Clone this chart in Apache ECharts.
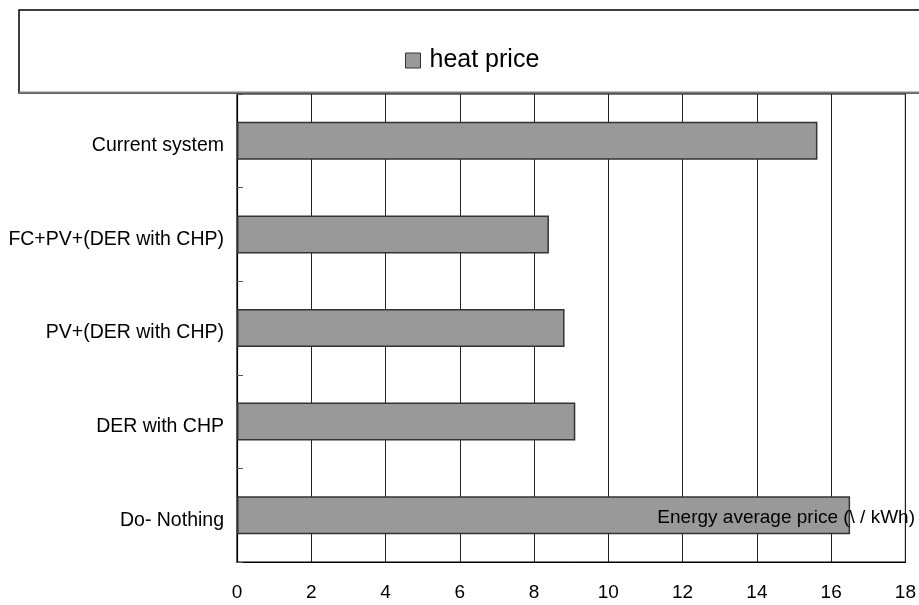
<!DOCTYPE html>
<html>
<head>
<meta charset="utf-8">
<script src="https://cdn.jsdelivr.net/npm/echarts@6/dist/echarts.min.js"></script>
<style>html,body{margin:0;padding:0;background:#fff;}#c{width:919px;height:605px;}</style>
</head>
<body>
<div id="c"></div>
<script>
var categories = ["Current system", "FC+PV+(DER with CHP)", "PV+(DER with CHP)", "DER with CHP", "Do- Nothing"];
var heatPrice = [15.63, 8.40, 8.82, 9.11, 16.51];
var seriesName = "heat price";
var axisTitle = "Energy average price (\\ / kWh)";
var xMin = 0, xMax = 18, xStep = 2;

var chart = echarts.init(document.getElementById('c'), null, {renderer: 'canvas'});
var font = "'Liberation Sans', Arial, sans-serif";
chart.setOption({
  animation: false,
  backgroundColor: '#fff',
  graphic: [
    {type: 'rect', shape: {x: 19, y: 10, width: 920, height: 83}, style: {fill: 'none', stroke: '#000', lineWidth: 1.5}, z: 0},
    {type: 'line', shape: {x1: 19, y1: 92.5, x2: 919, y2: 92.5}, style: {stroke: '#808080', lineWidth: 2}, z: 1},
    {type: 'text', right: 4, top: 508, style: {text: axisTitle, font: "19px " + font, fill: '#000'}, z: 100}
  ],
  legend: {
    left: 400, top: 43,
    itemWidth: 15, itemHeight: 15, itemGap: 10,
    icon: 'rect',
    textStyle: {fontSize: 25, fontFamily: font, color: '#000', padding: [0, 0, 0, 4]},
    data: [{name: seriesName, itemStyle: {color: '#999', borderColor: '#333', borderWidth: 1}}]
  },
  grid: {left: 237, right: 12, top: 94, bottom: 43, show: true, borderColor: '#000', borderWidth: 1.2, containLabel: false},
  xAxis: {
    type: 'value', min: xMin, max: xMax, interval: xStep,
    axisLine: {show: true, lineStyle: {color: '#000'}},
    axisTick: {show: false},
    axisLabel: {color: '#000', fontSize: 19, fontFamily: font, margin: 21},
    splitLine: {show: true, lineStyle: {color: '#222', width: 1}}
  },
  yAxis: {
    type: 'category', data: categories, inverse: true,
    axisLine: {show: true, lineStyle: {color: '#000', width: 1.2}},
    axisTick: {show: true, inside: true, length: 6, lineStyle: {color: '#555'}},
    axisLabel: {color: '#000', fontSize: 19.5, fontFamily: font, margin: 13, verticalAlign: 'top', lineHeight: 10},
    splitLine: {show: false}
  },
  series: [{
    name: seriesName, type: 'bar', data: heatPrice, barWidth: 38,
    itemStyle: {color: '#999', borderColor: '#333', borderWidth: 1.5}
  }]
});
</script>
</body>
</html>
